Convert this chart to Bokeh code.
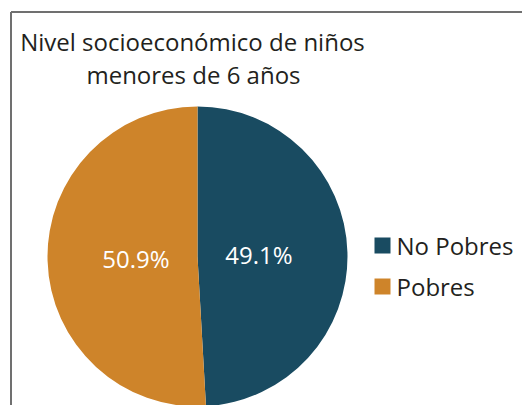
import math
from bokeh.plotting import figure
from bokeh.models import Range1d, ColumnDataSource
from bokeh.core.properties import value
from bokeh.embed import file_html
from bokeh.resources import INLINE

# ---- data ----
title_lines = ["Nivel socioeconómico de niños", "menores de 6 años"]
categories = ["No Pobres", "Pobres"]
shares = [49.1, 50.9]
colors = ["#194b61", "#ce842a"]

W, H = 522, 405
FONT = value("Open Sans")

p = figure(width=W, height=H, output_backend="svg", toolbar_location=None,
           x_range=Range1d(0, W), y_range=Range1d(0, H),
           min_border=0, outline_line_color=None)
p.axis.visible = False
p.grid.visible = False
p.background_fill_color = "white"
p.border_fill_color = "white"

# frame (left/top edges visible)
p.segment(x0=[10.5, 10.5], y0=[-20, 393.5], x1=[10.5, W + 20], y1=[393.5, 393.5],
          line_color="#707070", line_width=2)

# pie
cx, cy, R = 197, 149, 150
total = sum(shares)
starts, ends, lx, ly, labels = [], [], [], [], []
a = math.pi / 2
for s in shares:
    sweep = 2 * math.pi * s / total
    starts.append(a)
    ends.append(a - sweep)
    mid = a - sweep / 2
    lx.append(cx + 0.41 * R * math.cos(mid))
    ly.append(cy + 0.41 * R * math.sin(mid))
    labels.append(f"{s:.1f}%")
    a -= sweep

src = ColumnDataSource(dict(start=starts, end=ends, color=colors,
                            lx=lx, ly=ly, label=labels, cat=categories))
p.wedge(x=cx, y=cy, radius=R, start_angle="start", end_angle="end",
        direction="clock", fill_color="color", line_color=None, source=src)
p.text(x="lx", y="ly", text="label", source=src, text_color="white",
       text_font=FONT, text_font_size="24px", text_align="center",
       text_baseline="middle")

# title
p.text(x=[192, 193], y=[364, 331], text=title_lines, text_color="#231f20",
       text_font=FONT, text_font_size="24px", text_align="center",
       text_baseline="middle")

# legend
leg_y = [160 - 41 * i for i in range(len(categories))]
lsrc = ColumnDataSource(dict(y=leg_y, color=colors, cat=categories))
p.rect(x=382, y="y", width=16, height=16, fill_color="color", line_color=None,
       source=lsrc)
p.text(x=396, y="y", text="cat", source=lsrc, text_color="#231f20",
       text_font=FONT, text_font_size="24px", text_align="left",
       text_baseline="middle")

open("out.html", "w").write(file_html(p, INLINE))
